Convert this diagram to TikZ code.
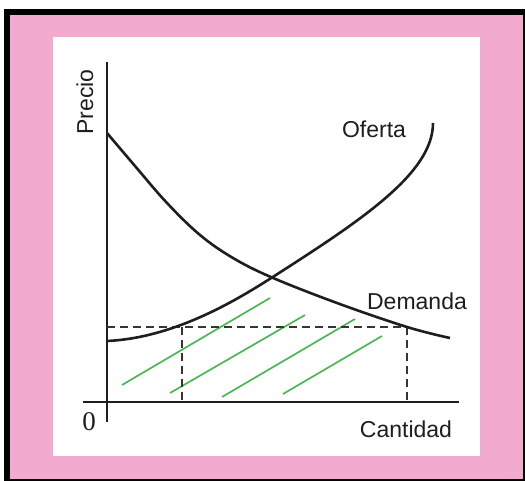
\documentclass[tikz,border=0pt]{standalone}
\usepackage{fontspec}
\setmainfont{Liberation Sans}
\newfontfamily\zerofont{Liberation Serif}
\definecolor{framepink}{RGB}{242,170,206}
\definecolor{hatchgreen}{RGB}{76,184,84}
\definecolor{inkgray}{RGB}{30,30,30}
\begin{document}
\begin{tikzpicture}[x=1pt,y=-1pt,
  curve/.style={line width=2.6pt,draw=inkgray},
  axisline/.style={line width=2.8pt,draw=inkgray},
  guide/.style={line width=2.3pt,draw=inkgray!90,dash pattern=on 8pt off 5pt},
  hatch/.style={line width=1.7pt,draw=hatchgreen},
  lbl/.style={inner sep=0pt,text=inkgray,font=\fontsize{23}{26}\selectfont}]
\useasboundingbox (0,0) rectangle (525,481);
\fill[black] (4,9) rectangle (525,481);
\fill[framepink] (10,15) rectangle (523,479);
\fill[white] (53,37) rectangle (480,456);

% axes
\coordinate (ytop) at (107,62);
\coordinate (ybot) at (107,422);
\coordinate (xleft) at (83,402);
\coordinate (xright) at (459,402);
\draw[axisline] (ytop) -- (ybot);
\draw[axisline] (xleft) -- (xright);

% key points
\coordinate (E) at (272,277.5);
\coordinate (Qs) at (182,327);
\coordinate (Qd) at (407,327);
\coordinate (Py) at (107,327);

% hatching under the price line
\foreach \xa/\ya/\xb/\yb in {122/385/270/298, 170/393/305/315, 222/397/355/319, 283/394/382/336}
  \draw[hatch] (\xa,\ya) -- (\xb,\yb);

% dashed guides
\draw[guide] (Py) -- (Qd);
\draw[guide] (Qs) -- (Qs |- xleft);
\draw[guide] (Qd) -- (Qd |- xleft);

% demand
\draw[curve] plot[smooth,tension=0.6] coordinates {(107,133) (135,166) (167,203)
  (200,235) (233,258) (E) (337,303) (407,327) (450,338)};
% supply
\draw[curve] (107,341) .. controls (172,338) and (232,303.1) .. (E)
  .. controls (362,219.9) and (433,173) .. (433,123);

% labels
\node[lbl,rotate=90] (precio) at (85,102) {Precio};
\node[lbl] (oferta) at (374,129) {Oferta};
\node[lbl] (demanda) at (417,301) {Demanda};
\node[lbl] (cantidad) at (406,429) {Cantidad};
\node[lbl,font=\zerofont\fontsize{27}{30}\selectfont] (cero) at (89,422) {0};
\end{tikzpicture}
\end{document}
